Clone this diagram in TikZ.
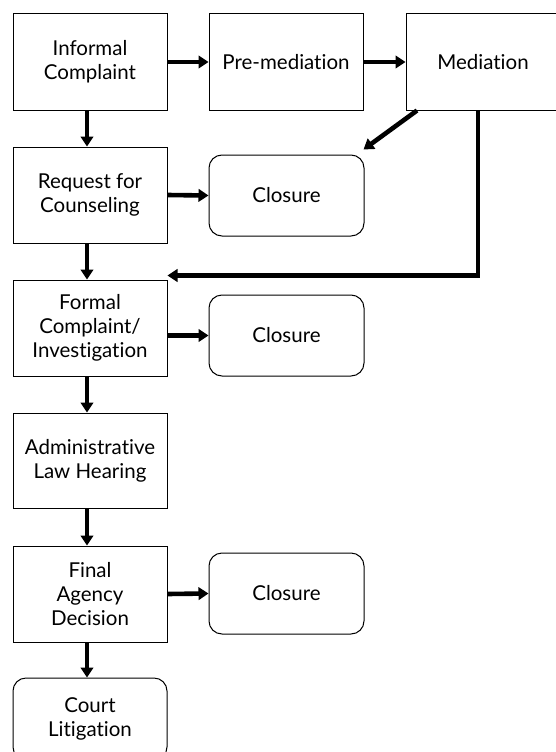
\documentclass[tikz,border=0pt]{standalone}
\usepackage{fontspec}
\setmainfont{Lato}[Ligatures={NoCommon}]
\usetikzlibrary{arrows.meta}
\begin{document}
\begin{tikzpicture}[x=1pt,y=-1pt,
  stage/.style={draw=black,line width=1pt,minimum width=154pt,minimum height=96pt,
     align=center,font=\fontsize{20.5}{24}\selectfont,inner sep=0pt},
  endbox/.style={draw=black,line width=1pt,rounded corners=13pt,minimum width=155pt,minimum height=81pt,
     align=center,font=\fontsize{20.5}{24}\selectfont,inner sep=0pt},
  flow/.style={line width=4.6pt,-{Triangle[length=10pt,width=12.5pt]}}]
\useasboundingbox (0,0) rectangle (556,752);
\node[stage] (ic) at (90,62) {Informal\\Complaint};
\node[stage,minimum width=154pt] (pm) at (286,62) {Pre-mediation};
\node[stage] (med) at (483,62) {Mediation};
\node[stage] (rc) at (90,195) {Request for\\Counseling};
\node[endbox] (c1) at (286.5,195.5) {Closure};
\node[stage] (fc) at (90,328) {Formal\\Complaint/\\Investigation};
\node[endbox] (c2) at (286.5,335.5) {Closure};
\node[stage,minimum height=95pt] (al) at (90,460.5) {Administrative\\Law Hearing};
\node[stage] (fa) at (90,594) {Final\\Agency\\Decision};
\node[endbox] (c3) at (286.5,593.5) {Closure};
\node[endbox,minimum width=154pt,minimum height=82pt] (cl) at (90,719) {Court\\Litigation};
\draw[flow] (ic.east) -- (pm.west);
\draw[flow] (pm.east) -- (med.west);
\draw[flow] ([xshift=-3pt]ic.south) -- ([xshift=-3pt]rc.north);
\draw[flow] (rc.east) -- (c1.west);
\draw[flow] ([xshift=-3pt]rc.south) -- ([xshift=-3pt]fc.north);
\draw[flow] (c2.west -| fc.east) -- (c2.west);
\draw[flow] ([xshift=-3pt]fc.south) -- ([xshift=-3pt]al.north);
\draw[flow] ([xshift=-3pt]al.south) -- ([xshift=-3pt]fa.north);
\draw[flow] (fa.east) -- (c3.west);
\draw[flow] ([xshift=-3pt]fa.south) -- ([xshift=-3pt]cl.north);
\draw[flow] ([xshift=-66pt]med.south) -- ([shift={(-1pt,5pt)}]c1.north east);
\draw[flow,rounded corners=0pt] ([xshift=-5pt]med.south) |- ([yshift=4pt]fc.north east);
\end{tikzpicture}
\end{document}
